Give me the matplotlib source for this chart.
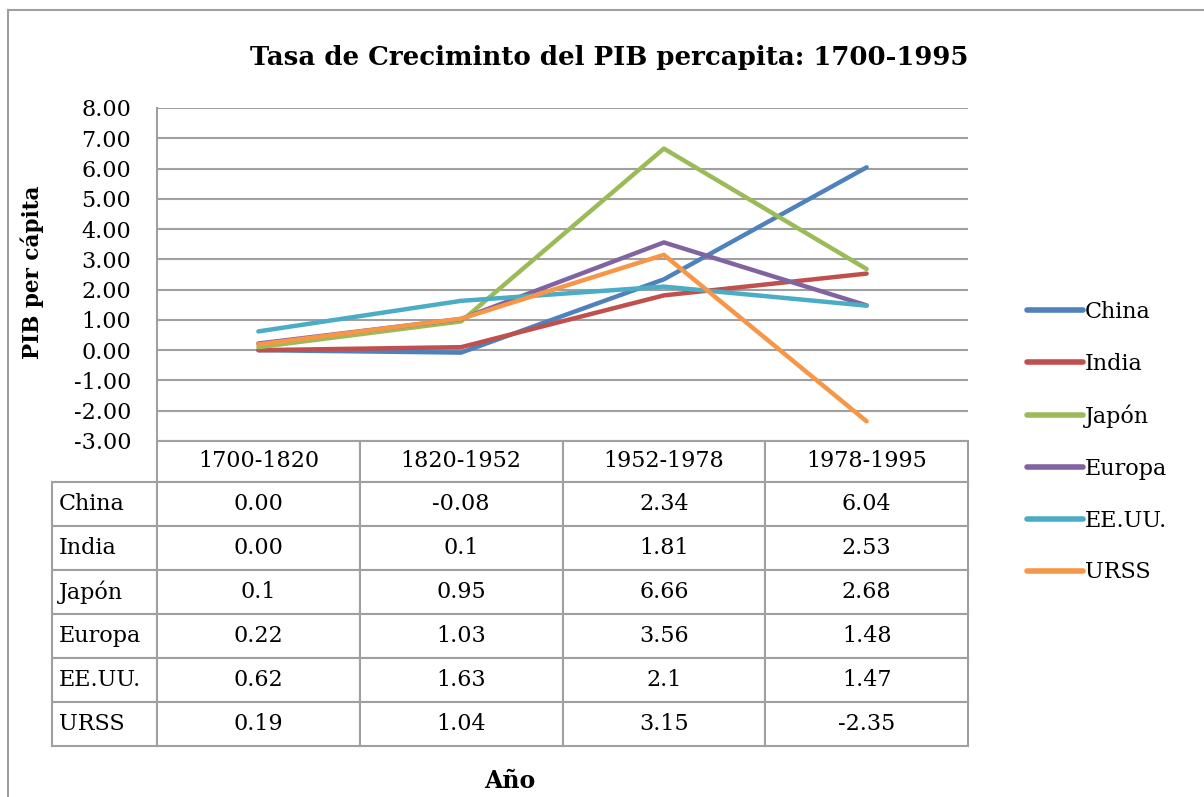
import matplotlib.pyplot as plt
from matplotlib.table import Table

# datos
periodos = ["1700-1820", "1820-1952", "1952-1978", "1978-1995"]
paises = ["China", "India", "Japón", "Europa", "EE.UU.", "URSS"]
china = [0.00, -0.08, 2.34, 6.04]
india = [0.00, 0.1, 1.81, 2.53]
japon = [0.1, 0.95, 6.66, 2.68]
europa = [0.22, 1.03, 3.56, 1.48]
eeuu = [0.62, 1.63, 2.1, 1.47]
urss = [0.19, 1.04, 3.15, -2.35]
etiquetas = [["0.00", "-0.08", "2.34", "6.04"],
             ["0.00", "0.1", "1.81", "2.53"],
             ["0.1", "0.95", "6.66", "2.68"],
             ["0.22", "1.03", "3.56", "1.48"],
             ["0.62", "1.63", "2.1", "1.47"],
             ["0.19", "1.04", "3.15", "-2.35"]]
series = [china, india, japon, europa, eeuu, urss]
colores = ["#4F81BD", "#C0504D", "#9BBB59", "#8064A2", "#4BACC6", "#F79646"]

plt.rcParams['font.family'] = 'DejaVu Serif'
gris = "#A0A0A0"

W, H = 1204, 797
fig = plt.figure(figsize=(W/100, H/100), dpi=100)
# borde del grafico
fig.add_artist(plt.Line2D([8/W, 8/W], [0, 1-10/H], color=gris, lw=1.5))
fig.add_artist(plt.Line2D([8/W, 1], [1-10/H, 1-10/H], color=gris, lw=1.5))

aw, ah = 811, 333  # tamano del area de trazado en px
ax = fig.add_axes([157/W, 1-441/H, aw/W, ah/H])
x = range(len(periodos))
for s, c, n in zip(series, colores, paises):
    ax.plot(x, s, color=c, lw=3.2, label=n, solid_capstyle='round')
ax.set_xlim(-0.5, 3.5)
ax.set_ylim(-3, 8)
ax.set_yticks(range(-3, 9))
ax.set_yticklabels([f"{v:.2f}" for v in range(-3, 9)], fontsize=16)
ax.tick_params(axis='y', length=0, pad=18.5)
ax.set_xticks([])
ax.grid(axis='y', color=gris, lw=1.5)
for sp in ['top', 'right', 'bottom']:
    ax.spines[sp].set_visible(False)
ax.spines['left'].set_color(gris)
ax.spines['left'].set_linewidth(1.5)

# tabla de datos (anchos/altos en coordenadas de ejes)
cw, hh, rh, lw_ = 0.25, 41/ah, 44/ah, 105/aw
alto = hh + 6*rh
tab = Table(ax, bbox=[0, -alto, 1, alto])
tab.auto_set_font_size(False)
for j, p in enumerate(periodos):
    tab.add_cell(0, j, width=cw, height=hh, text=p, loc='center')
for i, n in enumerate(paises):
    cell = tab.add_cell(i+1, -1, width=lw_, height=rh, text=n, loc='left')
    cell.PAD = 0.065
    for j in range(len(periodos)):
        tab.add_cell(i+1, j, width=cw, height=rh, text=etiquetas[i][j], loc='center')
for cell in tab.get_celld().values():
    cell.set_edgecolor(gris)
    cell.set_linewidth(1.5)
    cell.get_text().set_fontsize(16)
tab.set_fontsize(16)
ax.add_table(tab)
tab.set_clip_on(False)

fig.text(609/W, 1-57/H, "Tasa de Creciminto del PIB percapita: 1700-1995",
         ha='center', va='center', fontsize=18.7, fontweight='bold')
fig.text(32/W, 1-272/H, "PIB per cápita", rotation=90, ha='center', va='center',
         fontsize=15.5, fontweight='bold')
fig.text(510/W, 1-781/H, "Año", ha='center', va='center', fontsize=17, fontweight='bold')

leg = fig.legend(loc='upper left', bbox_to_anchor=(1007/W, 1-281/H), frameon=False,
                 fontsize=16, handlelength=2.5, handletextpad=0.1, labelspacing=1.34)
for l in leg.get_lines():
    l.set_linewidth(4)

fig.savefig("out.png", dpi=100)
